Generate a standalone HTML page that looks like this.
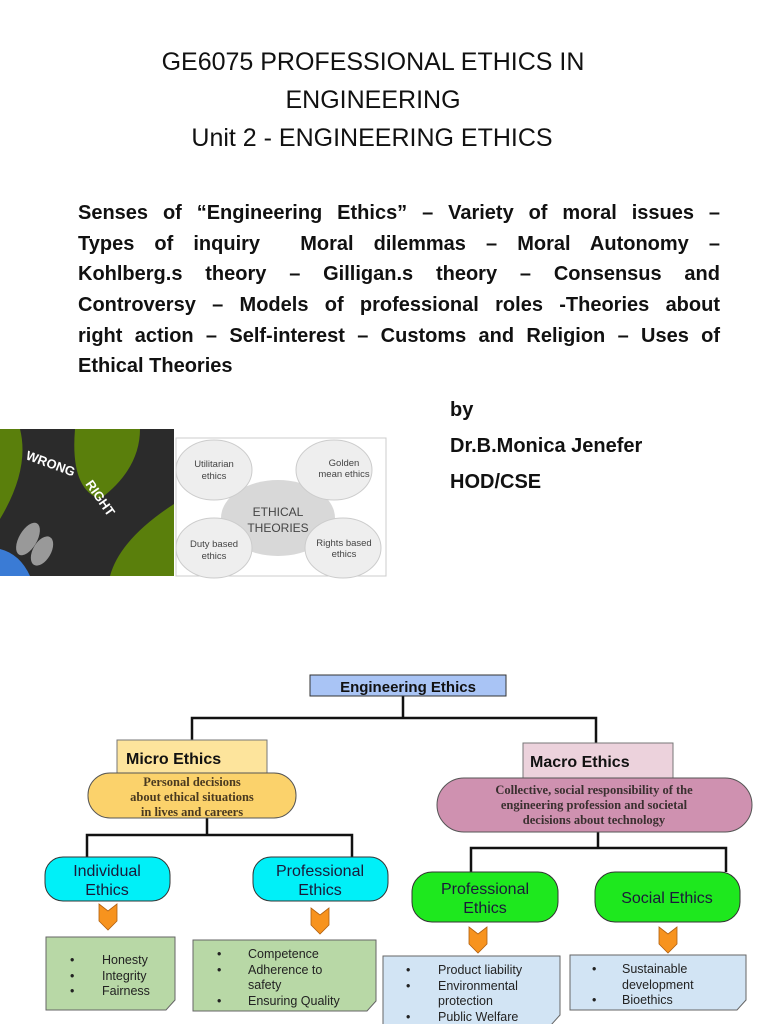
<!DOCTYPE html>
<html><head><meta charset="utf-8"><style>
body{margin:0;width:768px;height:1024px;background:#fff;position:relative;overflow:hidden;font-family:"Liberation Sans",sans-serif;}
.t{position:absolute;left:0;width:746px;text-align:center;font-size:25px;color:#111;}
.p{position:absolute;left:78px;width:642px;font-weight:bold;font-size:20px;color:#111;}
.p div{height:30.7px;line-height:30.7px;text-align:justify;text-align-last:justify;white-space:normal;}
.b{position:absolute;left:450px;font-weight:bold;font-size:20px;color:#111;}
</style></head><body>
<div class="t" style="top:48px">GE6075 PROFESSIONAL ETHICS IN</div>
<div class="t" style="top:86px;">ENGINEERING</div>
<div class="t" style="top:124px;left:-1px">Unit 2 - ENGINEERING ETHICS</div>
<div class="p" style="top:198px">
<div>Senses of “Engineering Ethics” – Variety of moral issues –</div>
<div>Types of inquiry&nbsp; Moral dilemmas – Moral Autonomy –</div>
<div>Kohlberg.s theory – Gilligan.s theory – Consensus and</div>
<div>Controversy – Models of professional roles -Theories about</div>
<div>right action – Self-interest – Customs and Religion – Uses of</div>
<div style="text-align-last:left">Ethical Theories</div>
</div>
<div class="b" style="top:399px">by</div>
<div class="b" style="top:435px">Dr.B.Monica Jenefer</div>
<div class="b" style="top:471px">HOD/CSE</div>

<svg style="position:absolute;left:0;top:429px" width="390" height="150">
<rect x="0" y="0" width="174" height="147" fill="#5a7f0c"/>
<path d="M20 0 L75 0 Q70 60 100 70 Q140 40 140 0 L174 0 L174 75 Q120 110 110 147 L0 147 L0 90 Q30 40 20 0Z" fill="#2b2b2b"/>
<text x="25" y="30" fill="#fff" font-size="13" font-weight="bold" transform="rotate(20 25 30)">WRONG</text>
<text x="85" y="55" fill="#fff" font-size="13" font-weight="bold" transform="rotate(55 85 55)">RIGHT</text>
<ellipse cx="28" cy="110" rx="9" ry="18" fill="#999" transform="rotate(30 28 110)"/>
<ellipse cx="42" cy="122" rx="9" ry="16" fill="#999" transform="rotate(30 42 122)"/>
<path d="M0 120 Q20 125 30 147 L0 147Z" fill="#3a7bd5"/>
<rect x="176" y="9" width="210" height="138" fill="#fff" stroke="#ccc"/>
<ellipse cx="278" cy="89" rx="57" ry="38" fill="#d8d8d8"/>
<ellipse cx="214" cy="41" rx="38" ry="30" fill="#eee" stroke="#ccc"/>
<ellipse cx="334" cy="41" rx="38" ry="30" fill="#eee" stroke="#ccc"/>
<ellipse cx="214" cy="119" rx="38" ry="30" fill="#eee" stroke="#ccc"/>
<ellipse cx="343" cy="119" rx="38" ry="30" fill="#eee" stroke="#ccc"/>
<g font-size="9.5" fill="#444" text-anchor="middle">
<text x="214" y="38">Utilitarian</text><text x="214" y="50">ethics</text>
<text x="344" y="37">Golden</text><text x="344" y="48">mean ethics</text>
<text x="214" y="118">Duty based</text><text x="214" y="130">ethics</text>
<text x="344" y="117">Rights based</text><text x="344" y="128">ethics</text>
<text x="278" y="87" font-size="12">ETHICAL</text><text x="278" y="103" font-size="12">THEORIES</text>
</g>
</svg>

<svg style="position:absolute;left:0;top:0" width="768" height="1024">
<g stroke="#111" stroke-width="2.5" fill="none">
<path d="M403 696 V718 M192 740 V718 H596 V743"/>
<path d="M207 818 V835 M87 857 V835 H352 V857"/>
<path d="M598 832 V848 M471 872 V848 H726 V872"/>
</g>
<rect x="310" y="675" width="196" height="21" fill="#a9c4f5" stroke="#333"/>
<text x="408" y="692" font-size="15" font-weight="bold" text-anchor="middle" fill="#111">Engineering Ethics</text>
<rect x="117" y="740" width="150" height="34" fill="#fde49c" stroke="#777"/>
<text x="126" y="764" font-size="16" font-weight="bold" fill="#111">Micro Ethics</text>
<rect x="523" y="743" width="150" height="35" fill="#ecd2dc" stroke="#777"/>
<text x="530" y="767" font-size="16" font-weight="bold" fill="#111">Macro Ethics</text>
<rect x="88" y="773" width="208" height="45" rx="22" fill="#fbd26b" stroke="#555"/>
<g font-family="Liberation Serif,serif" font-weight="bold" font-size="12.5" fill="#4a3a20" text-anchor="middle">
<text x="192" y="786">Personal decisions</text><text x="192" y="801">about ethical situations</text><text x="192" y="816">in lives and careers</text>
</g>
<rect x="437" y="778" width="315" height="54" rx="27" fill="#cf91b0" stroke="#555"/>
<g font-family="Liberation Serif,serif" font-weight="bold" font-size="12.5" fill="#3a3030" text-anchor="middle">
<text x="594" y="794">Collective, social responsibility of the</text><text x="594" y="809">engineering profession and societal</text><text x="594" y="824">decisions about technology</text>
</g>
<g stroke="#333" stroke-width="1">
<rect x="45" y="857" width="125" height="44" rx="18" fill="#00f0f8"/>
<rect x="253" y="857" width="135" height="44" rx="18" fill="#00f0f8"/>
<rect x="412" y="872" width="146" height="50" rx="20" fill="#1ee81e"/>
<rect x="595" y="872" width="145" height="50" rx="20" fill="#1ee81e"/>
</g>
<g font-size="16" fill="#1a1a3a" text-anchor="middle">
<text x="107" y="876">Individual</text><text x="107" y="895">Ethics</text>
<text x="320" y="876">Professional</text><text x="320" y="895">Ethics</text>
<text x="485" y="894">Professional</text><text x="485" y="913">Ethics</text>
<text x="667" y="903">Social Ethics</text>
</g>
<g fill="#f7931e" stroke="#b06010" stroke-width="0.8">
<path d="M99 904 L108 911 L117 904 V921 L108 930 L99 921Z"/>
<path d="M311 908 L320 915 L329 908 V925 L320 934 L311 925Z"/>
<path d="M469 927 L478 934 L487 927 V944 L478 953 L469 944Z"/>
<path d="M659 927 L668 934 L677 927 V944 L668 953 L659 944Z"/>
</g>
<g stroke="#666" stroke-width="1">
<path d="M46 937 H175 V1000 L166 1010 H46Z" fill="#b8d8a6"/>
<path d="M193 940 H376 V1001 L367 1011 H193Z" fill="#b8d8a6"/>
<path d="M383 956 H560 V1015 L551 1025 H383Z" fill="#d2e4f4"/>
<path d="M570 955 H746 V1000 L737 1010 H570Z" fill="#d2e4f4"/>
</g>
<g font-size="12.5" fill="#222">
<text x="70" y="964">•</text><text x="102" y="964">Honesty</text>
<text x="70" y="980">•</text><text x="102" y="980">Integrity</text>
<text x="70" y="995">•</text><text x="102" y="995">Fairness</text>
<text x="217" y="958">•</text><text x="248" y="958">Competence</text>
<text x="217" y="974">•</text><text x="248" y="974">Adherence to</text>
<text x="248" y="989">safety</text>
<text x="217" y="1005">•</text><text x="248" y="1005">Ensuring Quality</text>
<text x="406" y="974">•</text><text x="438" y="974">Product liability</text>
<text x="406" y="990">•</text><text x="438" y="990">Environmental</text>
<text x="438" y="1005">protection</text>
<text x="406" y="1021">•</text><text x="438" y="1021">Public Welfare</text>
<text x="592" y="973">•</text><text x="622" y="973">Sustainable</text>
<text x="622" y="989">development</text>
<text x="592" y="1004">•</text><text x="622" y="1004">Bioethics</text>
</g>
</svg>
</body></html>
